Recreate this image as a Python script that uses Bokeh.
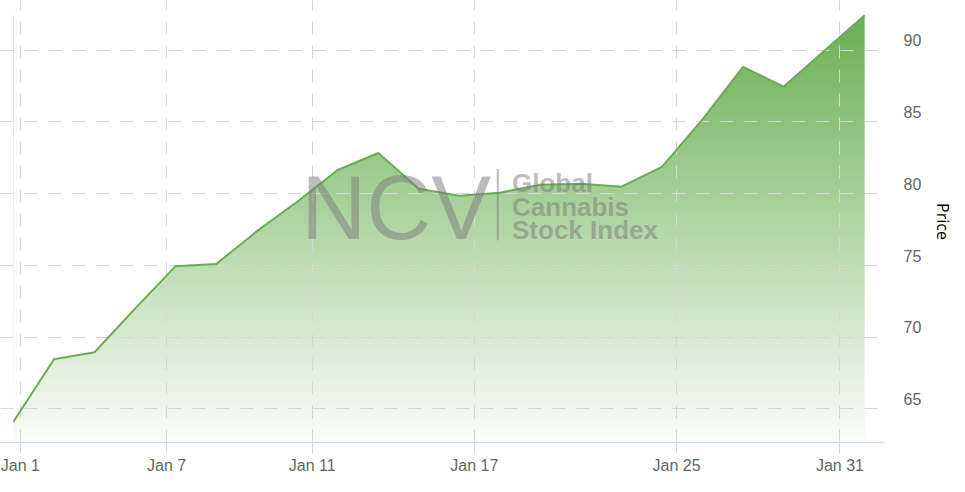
import numpy as np
from bokeh.plotting import figure
from bokeh.models import Range1d, FixedTicker, Label
from bokeh.embed import file_html
from bokeh.resources import INLINE

# ---- data ----
prices = [64.10, 68.45, 68.94, 71.98, 74.94, 75.08, 77.36, 79.43, 81.64, 82.82, 80.33,
          79.85, 80.06, 80.61, 80.68, 80.47, 81.85, 85.17, 88.83, 87.44, 89.93, 92.42]
day_index = list(range(len(prices)))
x_tick_pos = [0.17, 3.78, 7.37, 11.37, 16.36, 20.39]
x_tick_labels = ["Jan 1", "Jan 7", "Jan 11", "Jan 17", "Jan 25", "Jan 31"]
y_ticks = [65, 70, 75, 80, 85, 90]
y_tick_labels = ["65", "70", "75", "80", "85", "90"]
y_min, y_max = 62.65, 93.45
x_min, x_max = -0.32, 21.49

LINE_COLOR = "#68ae50"
GRID_COLOR = "#d6d6d6"
AXIS_COLOR = "#ccd6eb"
LABEL_COLOR = "#666666"
WM_COLOR = "#7a7a7a"
Y_LABEL_LIFT = 0.68  # labels sit a little above their grid lines

p = figure(width=957, height=476, output_backend="svg", toolbar_location=None,
           x_range=Range1d(x_min, x_max), y_range=Range1d(y_min, y_max),
           y_axis_location="right",
           min_border_left=0, min_border_top=0, min_border_bottom=0, min_border_right=0)
p.outline_line_color = None
p.background_fill_color = "white"
p.border_fill_color = "white"

# ---- gradient fill (image clipped by a white mask above the line) ----
n = 256
top_rgb = np.array([106, 176, 84], dtype=float)
bot_rgb = np.array([251, 253, 250], dtype=float)
t = np.linspace(0.0, 1.0, n)[:, None]
cols = bot_rgb + (top_rgb - bot_rgb) * t
img = np.zeros((n, 2), dtype=np.uint32)
view = img.view(dtype=np.uint8).reshape((n, 2, 4))
view[:, :, 0] = cols[:, 0:1]
view[:, :, 1] = cols[:, 1:2]
view[:, :, 2] = cols[:, 2:3]
view[:, :, 3] = 255
p.image_rgba(image=[img], x=day_index[0], y=y_min, dw=day_index[-1] - day_index[0],
             dh=max(prices) - y_min, level="image")
p.varea(x=day_index, y1=prices, y2=[y_max] * len(prices), fill_color="white",
        level="image")

p.line(day_index, prices, line_color=LINE_COLOR, line_width=2)

# ---- watermark ----
p.add_layout(Label(x=7.1, y=79.0, text="NCV", text_font="Liberation Sans",
                   text_font_size="90px", text_color=WM_COLOR, text_alpha=0.5,
                   text_baseline="alphabetic"))
p.segment(x0=[11.95], y0=[81.7], x1=[11.95], y1=[76.75], line_color=WM_COLOR,
          line_alpha=0.5, line_width=2)
for ty, txt in zip([80.75, 79.09, 77.44], ["Global", "Cannabis", "Stock Index"]):
    p.add_layout(Label(x=12.3, y=ty, text=txt, text_font="Liberation Sans",
                       text_font_style="bold", text_font_size="26px",
                       text_color=WM_COLOR, text_alpha=0.5, text_baseline="alphabetic"))

# ---- grids ----
p.xgrid.ticker = FixedTicker(ticks=x_tick_pos)
p.ygrid.ticker = FixedTicker(ticks=y_ticks)
for g in (p.xgrid, p.ygrid):
    g.grid_line_color = GRID_COLOR
    g.grid_line_width = 1
    g.grid_line_dash = "13 11"

# ---- x axis ----
xa = p.xaxis[0]
xa.ticker = FixedTicker(ticks=x_tick_pos)
xa.major_label_overrides = {pos: lab for pos, lab in zip(x_tick_pos, x_tick_labels)}
xa.axis_line_color = AXIS_COLOR
xa.major_tick_line_color = AXIS_COLOR
xa.major_tick_out = 11
xa.major_tick_in = 0
xa.minor_tick_line_color = None
xa.major_label_standoff = 3
xa.major_label_text_font = "Liberation Sans"
xa.major_label_text_font_size = "16px"
xa.major_label_text_color = LABEL_COLOR

# ---- y axis (right) ----
ya = p.yaxis[0]
label_pos = [v + Y_LABEL_LIFT for v in y_ticks]
ya.ticker = FixedTicker(ticks=label_pos)
ya.major_label_overrides = {pos: lab for pos, lab in zip(label_pos, y_tick_labels)}
ya.axis_line_color = None
ya.major_tick_line_color = None
ya.minor_tick_line_color = None
ya.major_tick_out = 0
ya.major_tick_in = 0
ya.major_label_standoff = 19
ya.major_label_text_font = "Liberation Sans"
ya.major_label_text_font_size = "16px"
ya.major_label_text_color = LABEL_COLOR
ya.axis_label = "Price"
ya.axis_label_text_font = "Open Sans"
ya.axis_label_text_font_style = "normal"
ya.axis_label_text_font_size = "16px"
ya.axis_label_text_color = "#000000"
ya.axis_label_standoff = 8

open("out.html", "w").write(file_html(p, INLINE))
